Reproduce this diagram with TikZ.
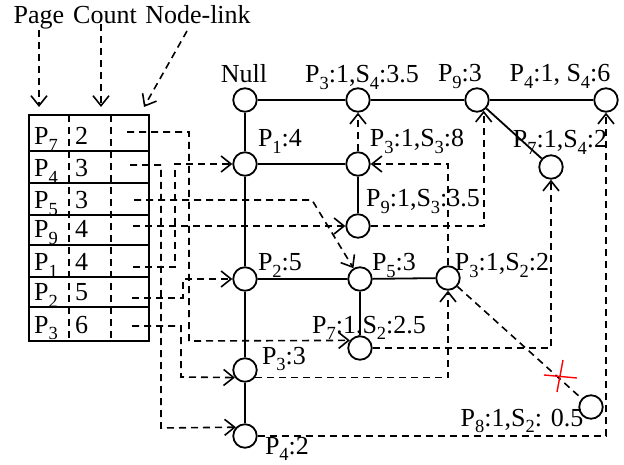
\documentclass[tikz,border=0pt]{standalone}
\usepackage{fontspec}
\setmainfont{Liberation Serif}
\usetikzlibrary{arrows.meta,calc}
% lowered, smaller index text
\newcommand{\sbs}[1]{\raisebox{-0.25em}{\fontsize{18.5}{18.5}\selectfont #1}}

\begin{document}
\begin{tikzpicture}[x=1pt,y=-1pt,
  font=\fontsize{26}{30}\selectfont,
  vtx/.style={circle,draw,line width=1.8pt,minimum size=23.5pt,inner sep=0pt,fill=white},
  lbl/.style={anchor=base,inner sep=0pt},
  tree/.style={line width=1.8pt},
  dline/.style={line width=1.6pt,dash pattern=on 7pt off 5pt},
  link/.style={dline,-{Straight Barb[length=10pt,width=16pt,line width=1.6pt]}},
  cellline/.style={line width=2pt}]
\useasboundingbox (0,0) rectangle (624,465);

% ---------- header captions ----------
\node[lbl] (hp) at (39,24) {Page};
\node[lbl] (hc) at (105,24) {Count};
\node[lbl] (hn) at (198,24) {Node-link};
\coordinate (tp) at (39,107);
\coordinate (tc) at (101,107);
\coordinate (tn) at (144,107);
\coordinate (hs) at (187,31);
\draw[link] (hp.south) -- (tp);
\draw[link] (hc.south -| tc) -- (tc);
\draw[link] (hs) -- (tn);

% ---------- header table ----------
\draw[cellline] (29,115) rectangle (149,341);
\foreach \yy in {151,183,215,245,277,307} \draw[cellline] (29,\yy) -- (149,\yy);
\draw[dline] (69,115) -- (69,341);
\draw[dline] (111,115) -- (111,341);
\node[lbl,anchor=base west] (r7) at (34,145) {P\sbs{7}};
\node[lbl,anchor=base west] (r4) at (34,177) {P\sbs{4}};
\node[lbl,anchor=base west] (r5) at (34,209) {P\sbs{5}};
\node[lbl,anchor=base west] (r9) at (34,238) {P\sbs{9}};
\node[lbl,anchor=base west] (r1) at (34,271) {P\sbs{1}};
\node[lbl,anchor=base west] (r2) at (34,301) {P\sbs{2}};
\node[lbl,anchor=base west] (r3) at (34,333) {P\sbs{3}};
\node[lbl,anchor=base west] (n7) at (75,145) {2};
\node[lbl,anchor=base west] (n4) at (75,177) {3};
\node[lbl,anchor=base west] (n5) at (75,209) {3};
\node[lbl,anchor=base west] (n9) at (75,238) {4};
\node[lbl,anchor=base west] (n1) at (75,271) {4};
\node[lbl,anchor=base west] (n2) at (75,301) {5};
\node[lbl,anchor=base west] (n3) at (75,333) {6};
\coordinate (l7) at (127,132);
\coordinate (l4) at (130,165);
\coordinate (l5) at (134,200);
\coordinate (l9) at (133,226);
\coordinate (l1) at (133,267);
\coordinate (l2) at (132,298);
\coordinate (l3) at (132,326);

% ---------- tree vertices ----------
\node[vtx] (nul) at (245,100) {};
\node[vtx] (a1) at (358,100) {};
\node[vtx] (a2) at (477,100) {};
\node[vtx] (a3) at (606,100) {};
\node[vtx] (a4) at (551,167) {};
\node[vtx] (b1) at (245,164) {};
\node[vtx] (b2) at (358,164) {};
\node[vtx] (b3) at (358,226) {};
\node[vtx] (c1) at (245,279) {};
\node[vtx] (c2) at (360,279) {};
\node[vtx] (c3) at (448,278) {};
\node[vtx] (c4) at (360,348) {};
\node[vtx] (d1) at (245,370) {};
\node[vtx] (d2) at (245,436) {};
\node[vtx] (d3) at (591,407) {};

% vertex captions
\node[lbl] (tnul) at (244,83) {Null};
\node[lbl] (ta1) at (362,83) {P\sbs{3}:1,S\sbs{4}:3.5};
\node[lbl] (ta2) at (460,82) {P\sbs{9}:3};
\node[lbl] (ta3) at (560,82) {P\sbs{4}:1, S\sbs{4}:6};
\node[lbl] (ta4) at (560,148) {P\sbs{7}:1,S\sbs{4}:2};
\node[lbl] (tb1) at (280,147) {P\sbs{1}:4};
\node[lbl] (tb2) at (417,147) {P\sbs{3}:1,S\sbs{3}:8};
\node[lbl] (tb3) at (423,207) {P\sbs{9}:1,S\sbs{3}:3.5};
\node[lbl] (tc1) at (280,271) {P\sbs{2}:5};
\node[lbl] (tc2) at (394,271) {P\sbs{5}:3};
\node[lbl] (tc3) at (502,271) {P\sbs{3}:1,S\sbs{2}:2};
\node[lbl] (tc4) at (369,333) {P\sbs{7}:1,S\sbs{2}:2.5};
\node[lbl] (td1) at (284,364) {P\sbs{3}:3};
\node[lbl] (td2) at (287,454) {P\sbs{4}:2};
\node[lbl] (td3) at (522,426) {P\sbs{8}:1,S\sbs{2}: 0.5};

% ---------- tree edges ----------
\draw[tree] (nul) -- (a1) -- (a2) -- (a3);
\draw[tree] (a2) -- (a4);
\draw[tree] (nul) -- (b1) -- (c1) -- (d1) -- (d2);
\draw[tree] (b1) -- (b2) -- (b3);
\draw[tree] (c1) -- (c2) -- (c3);
\draw[tree] (c2) -- (c4);

% ---------- node links from the table ----------
\draw[link] (l7) -- (189,132) -- (189,341) -- (c4.143);
\draw[link] (l4) -- (161,165) -- (161,428) -- (d2.136);
\draw[link] (l5) -- (312,200) -- (c2);
\draw[link] (l9) -- (b3.west);
\draw[link] (l1) -- (175,267) -- (175,164) -- (b1.west);
\draw[link] (l2) -- (183,298) -- (183,279) -- (c1.west);
\draw[link] (l3) -- (181,326) -- (181,377) -- (d1.217);

% ---------- node links between vertices ----------
\draw[link] (b2) -- (a1);
\draw[link] (c3) |- (b2);
\draw[link] (d1.-37) -| (c3);
\draw[link] (b3) -| (a2.-58);
\draw[link] (c4) -| (a4);
\draw[link] (d2) -| (a3);

% removed link, crossed out
\draw[dline] (c3) -- (d3);
\draw[red,line width=1.4pt] (544,375) -- (577,378);
\draw[red,line width=1.4pt] (563,360) -- (557,392);
\end{tikzpicture}
\end{document}
